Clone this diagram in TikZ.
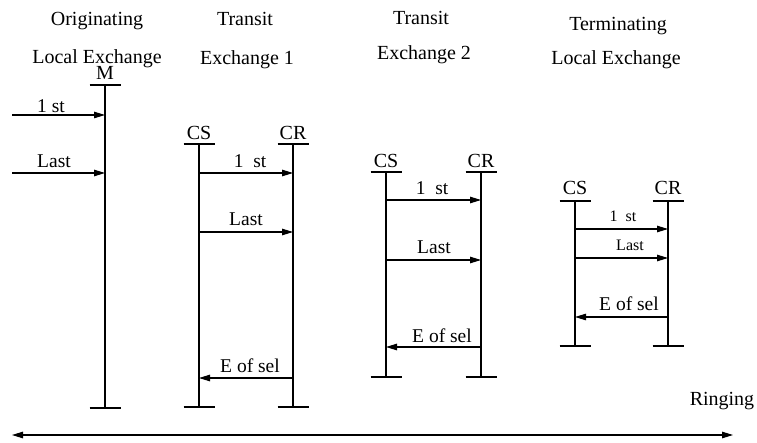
\documentclass[tikz,border=0pt]{standalone}
\usepackage{fontspec}
\setmainfont{Liberation Serif}
\usetikzlibrary{arrows.meta,positioning}

\begin{document}
\begin{tikzpicture}[
    x=1pt,y=-1pt,
    life/.style={line width=1.1pt},
    head/.style={font=\fontsize{20}{24}\selectfont,inner sep=0pt},
    ttl/.style={font=\fontsize{20}{24}\selectfont,inner sep=0pt,anchor=base},
    mlbl/.style={font=\fontsize{19.5}{23}\selectfont,inner sep=0pt,anchor=base},
    slbl/.style={font=\fontsize{16}{19}\selectfont,inner sep=0pt,anchor=base},
    msg/.style={line width=1.1pt,-{Triangle[length=11pt,width=6.5pt]}},
  ]
  \useasboundingbox (0,0) rectangle (757,443);
  % Exchange titles
  \node[ttl] (orig1) at (97,26) {Originating};
  \node[ttl] (orig2) at (97,64) {Local Exchange};
  \node[ttl] (tra1) at (245,26) {Transit};
  \node[ttl] (trb1) at (247,65) {Exchange 1};
  \node[ttl] (tra2) at (421,25) {Transit};
  \node[ttl] (trb2) at (424,60) {Exchange 2};
  \node[ttl] (term1) at (618,31) {Terminating};
  \node[ttl] (term2) at (616,65) {Local Exchange};
  % Lifelines (top and bottom points)
  \coordinate (mt) at (105,85);   \coordinate (mb) at (105,408);
  \coordinate (cs1t) at (199,144); \coordinate (cs1b) at (199,407);
  \coordinate (cr1t) at (293,144); \coordinate (cr1b) at (293,407);
  \coordinate (cs2t) at (386,172); \coordinate (cs2b) at (386,377);
  \coordinate (cr2t) at (481,172); \coordinate (cr2b) at (481,377);
  \coordinate (cs3t) at (575,201); \coordinate (cs3b) at (575,346);
  \coordinate (cr3t) at (668,201); \coordinate (cr3b) at (668,346);
  \foreach \p in {m,cs1,cr1,cs2,cr2,cs3,cr3}{
    \draw[life] (\p t) -- (\p b);
    \draw[life] ([xshift=-15.5pt]\p t) -- ([xshift=15.5pt]\p t);
    \draw[life] ([xshift=-15.5pt]\p b) -- ([xshift=15.5pt]\p b);
  }
  % Lifeline heads
  \node[head,above=5pt of mt] (m) {M};
  \node[head,above=4pt of cs1t] (cs1) {CS};
  \node[head,above=4pt of cr1t] (cr1) {CR};
  \node[head,above=4pt of cs2t] (cs2) {CS};
  \node[head,above=4pt of cr2t] (cr2) {CR};
  \node[head,above=6pt of cs3t] (cs3) {CS};
  \node[head,above=6pt of cr3t] (cr3) {CR};
  % Originating local exchange
  \coordinate (in1) at (12,115);
  \coordinate (in2) at (12,173);
  \draw[msg] (in1) -- (mt |- 0,115);
  \draw[msg] (in2) -- (mt |- 0,173);
  \node[mlbl] (o1st) at (51,113) {1 st};
  \node[mlbl] (olast) at (54,168) {Last};
  % Transit exchange 1
  \draw[msg] (cs1t |- 0,173) -- (cr1t |- 0,173);
  \draw[msg] (cs1t |- 0,232) -- (cr1t |- 0,232);
  \draw[msg] (cr1t |- 0,378) -- (cs1t |- 0,378);
  \node[mlbl] (a1st) at (250,168) {1\ \ st};
  \node[mlbl] (alast) at (246,226) {Last};
  \node[mlbl] (aeos) at (250,372) {E of sel};
  % Transit exchange 2
  \draw[msg] (cs2t |- 0,200) -- (cr2t |- 0,200);
  \draw[msg] (cs2t |- 0,260) -- (cr2t |- 0,260);
  \draw[msg] (cr2t |- 0,347) -- (cs2t |- 0,347);
  \node[mlbl] (b1st) at (432,195) {1\ \ st};
  \node[mlbl] (blast) at (434,254) {Last};
  \node[mlbl] (beos) at (442,342) {E of sel};
  % Terminating local exchange
  \draw[msg] (cs3t |- 0,229) -- (cr3t |- 0,229);
  \draw[msg] (cs3t |- 0,258) -- (cr3t |- 0,258);
  \draw[msg] (cr3t |- 0,317) -- (cs3t |- 0,317);
  \node[slbl] (c1st) at (623,222) {1\ \ st};
  \node[slbl] (clast) at (630,251) {Last};
  \node[mlbl] (ceos) at (629,311) {E of sel};
  % Ringing
  \node[ttl] (ring) at (722,405) {Ringing};
  \coordinate (rl) at (12,435);
  \coordinate (rr) at (733,435);
  \draw[line width=1.1pt,{Triangle[length=11pt,width=6.5pt]}-{Triangle[length=11pt,width=6.5pt]}] (rl) -- (rr);
\end{tikzpicture}
\end{document}
